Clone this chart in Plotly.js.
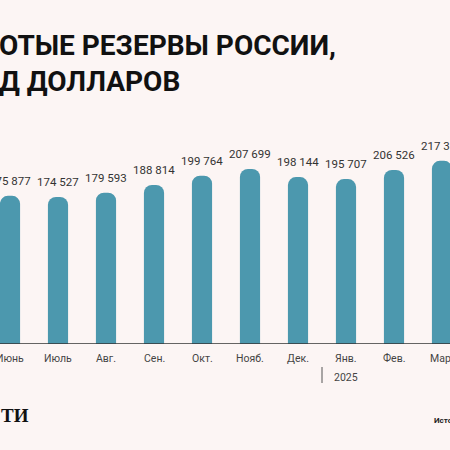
<!DOCTYPE html>
<html><head><meta charset="utf-8">
<script src="https://cdn.plot.ly/plotly-3.0.1.min.js"></script>
<style>html,body{margin:0;padding:0;background:#fcf5f4;}#c{width:450px;height:450px;}</style>
</head><body><div id="c"></div>
<script>
const months = ["Июнь","Июль","Авг.","Сен.","Окт.","Нояб.","Дек.","Янв.","Фев.","Март"];
const reserves = [175877,174527,179593,188814,199764,207699,198144,195707,206526,217380];
const yearLabel = "2025";
const titleLines = ["ОТЫЕ РЕЗЕРВЫ РОССИИ,","Д ДОЛЛАРОВ"];
const logoText = "ТИ";
const sourceText = "Исто";

const fmt = v => String(v).replace(/\B(?=(\d{3})+(?!\d))/g, " ");
const idx = months.map((m,i)=>i);

const annotations = reserves.map((v,i)=>({
  x:i, y:v, xref:'x', yref:'y', text:fmt(v), showarrow:false,
  yanchor:'bottom', xanchor:'center', yshift:6,
  font:{family:'Roboto, sans-serif', size:11.5, color:'#333'}
}));
months.forEach((m,i)=>annotations.push({
  x:i, y:0, xref:'x', yref:'paper', text:m, showarrow:false,
  yanchor:'top', xanchor:'center', yshift:-6,
  font:{family:'Roboto, sans-serif', size:10.5, color:'#444'}
}));
annotations.push(
  {x:0, y:1, xref:'paper', yref:'paper', xanchor:'left', yanchor:'top', yshift:73, xshift:-3,
   text:'<b>'+titleLines[0]+'</b>', showarrow:false,
   font:{family:'Roboto, sans-serif', size:28, color:'#111', weight:900}},
  {x:0, y:1, xref:'paper', yref:'paper', xanchor:'left', yanchor:'top', yshift:37, xshift:-3,
   text:'<b>'+titleLines[1]+'</b>', showarrow:false,
   font:{family:'Roboto, sans-serif', size:28, color:'#111', weight:900}},
  {x:7, y:0, xref:'x', yref:'paper', xanchor:'center', yanchor:'top', yshift:-25,
   text:yearLabel, showarrow:false, font:{family:'Roboto, sans-serif', size:10.5, color:'#444'}},
  {x:0, y:0, xref:'paper', yref:'paper', xanchor:'left', yanchor:'middle', yshift:-71, xshift:-1,
   text:'<b>'+logoText+'</b>', showarrow:false, font:{family:'Liberation Serif, serif', size:19, color:'#111'}},
  {x:432/450, y:0, xref:'paper', yref:'paper', xanchor:'left', yanchor:'middle', yshift:-76,
   text:'<b>'+sourceText+'</b>', showarrow:false, font:{family:'Roboto, sans-serif', size:8, color:'#222'}}
);

const data = [{
  type:'bar', x:idx, y:reserves, width:0.42,
  marker:{color:'#4c98ae', cornerradius:8},
  hoverinfo:'none'
}];

const layout = {
  width:450, height:450,
  margin:{l:0, r:0, t:100, b:106},
  paper_bgcolor:'#fcf5f4', plot_bgcolor:'#fcf5f4',
  showlegend:false,
  xaxis:{range:[-10/48, 9+8/48], showticklabels:false,
    showgrid:false, zeroline:false, showline:false, ticks:'', fixedrange:true},
  yaxis:{range:[0, 289600], visible:false, showgrid:false, zeroline:false, fixedrange:true},
  shapes:[
    {type:'line', xref:'paper', yref:'y', x0:0, x1:1, y0:0, y1:0, line:{color:'#333', width:1.5}},
    {type:'line', xref:'x', yref:'paper', ysizemode:'pixel', yanchor:0,
     x0:6.5, x1:6.5, y0:-23, y1:-39, line:{color:'#555', width:1}}
  ],
  annotations:annotations
};

Plotly.newPlot('c', data, layout, {staticPlot:true, displayModeBar:false});
</script></body></html>
